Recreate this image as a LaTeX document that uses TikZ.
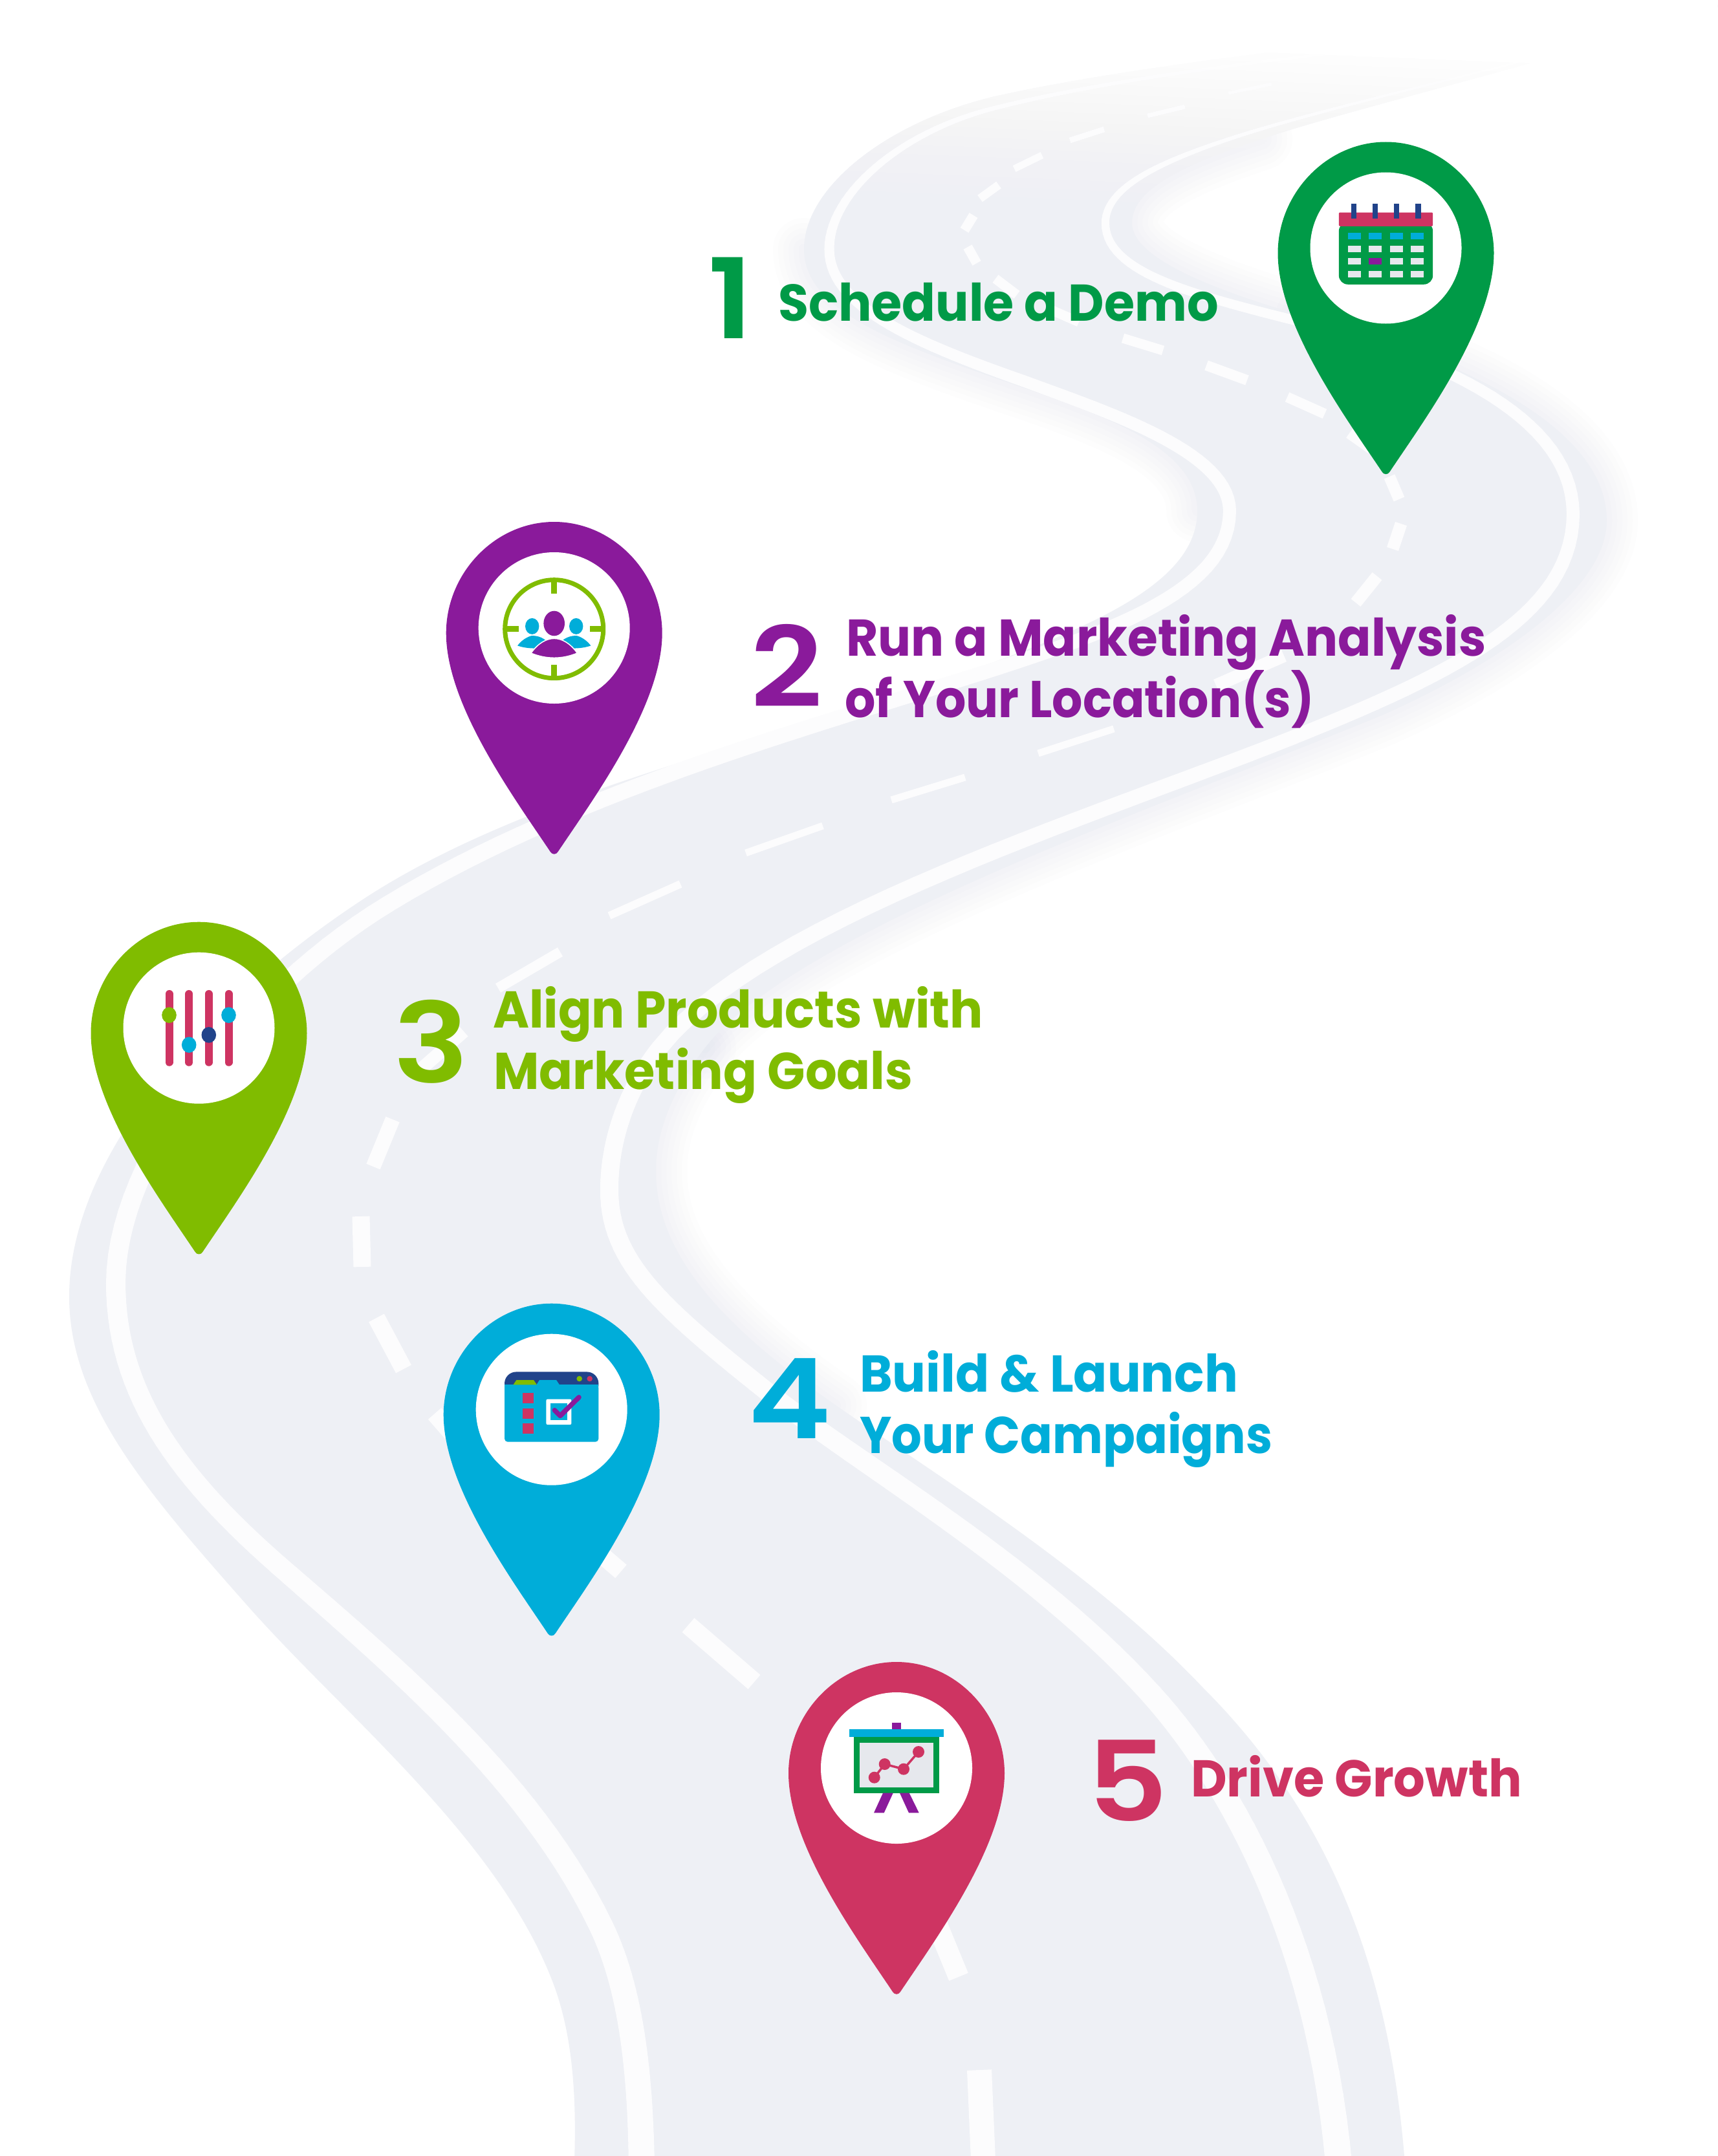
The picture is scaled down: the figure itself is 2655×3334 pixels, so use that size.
\documentclass[tikz,border=0pt]{standalone}
\usepackage{fontspec}
\setmainfont{Poppins}
\newfontfamily\numfont{Poppins SemiBold}
\definecolor{cgreen}{HTML}{009A47}
\definecolor{cpurple}{HTML}{8A1A9B}
\definecolor{clime}{HTML}{80BC00}
\definecolor{cblue}{HTML}{00ADD9}
\definecolor{cred}{HTML}{CE3462}
\definecolor{cnavy}{HTML}{21438A}
\definecolor{croad}{HTML}{EEF0F5}
\definecolor{cshadow}{HTML}{C9CEDC}
\definecolor{cstripe}{HTML}{FCFCFD}
\definecolor{ccell}{HTML}{E6E8ED}
\newcommand\pinshape[3]{% cx, cy, colour
 \fill[#3,shift={(#1,#2)}] (-6,346) .. controls (-60,265) and (-167,120) .. (-167,8)
   .. controls (-167,-84) and (-92,-164) .. (0,-164)
   .. controls (92,-164) and (167,-84) .. (167,8)
   .. controls (167,120) and (60,265) .. (6,346)
   .. controls (3,351) and (-3,351) .. cycle;
 \fill[white,shift={(#1,#2)}] (0,0) circle[radius=117];}
\tikzset{
 numlabel/.style={anchor=base west,inner sep=0pt,xscale=1.13,font=\fontsize{172}{172}\numfont},
 steplabel/.style={anchor=base west,inner sep=0pt,font=\fontsize{80}{95}\selectfont\bfseries},
 dashline/.style={cstripe,line cap=butt}
}
\begin{document}
\begin{tikzpicture}[x=1pt,y=-1pt]
\useasboundingbox (0,0) rectangle (2655,3334);
\clip (0,0) rectangle (2655,3334);
\fill[white] (0,0) rectangle (2655,3334);
% soft shadows outside the road
\foreach \sw in {16,32,48,64,80,96}{
 \draw[cshadow,opacity=.03,line width=\sw pt,line cap=round] (2020,490) .. controls (2290,565) and (2484,670) .. (2484,805) .. controls (2484,900) and (2350,1010) .. (2139,1105) .. controls (1800,1245) and (1230,1440) .. (1090,1620);
 \draw[cshadow,opacity=.03,line width=\sw pt,line cap=round] (1243,385) .. controls (1243,480) and (1380,530) .. (1560,592) .. controls (1700,640) and (1851,690) .. (1851,790);
 \draw[cshadow,opacity=.03,line width=\sw pt,line cap=round] (1090,1620) .. controls (1040,1685) and (1014,1750) .. (1014,1810) .. controls (1014,1930) and (1100,2040) .. (1292,2173);
 \draw[cshadow,opacity=.03,line width=\sw pt,line cap=round] (1950,215) .. controls (1820,258) and (1750,295) .. (1750,345) .. controls (1750,400) and (1880,450) .. (2020,490);
}
% road surface
\fill[croad] (2640,0) .. controls (2250,50) and (1800,90) .. (1534,150)
 .. controls (1370,190) and (1243,290) .. (1243,385)
 .. controls (1243,480) and (1380,530) .. (1560,592)
 .. controls (1700,640) and (1851,690) .. (1851,790)
 .. controls (1851,905) and (1680,975) .. (1438,1059)
 .. controls (1180,1148) and (820,1225) .. (570,1385)
 .. controls (330,1540) and (107,1780) .. (107,2005)
 .. controls (107,2170) and (230,2310) .. (380,2480)
 .. controls (535,2656) and (780,2850) .. (860,3080)
 .. controls (885,3155) and (895,3250) .. (885,3400)
 -- (2178,3400) -- (2171,3334)
 .. controls (2145,3020) and (2040,2790) .. (1860,2610)
 .. controls (1690,2430) and (1450,2283) .. (1292,2173)
 .. controls (1100,2040) and (1014,1930) .. (1014,1810)
 .. controls (1014,1750) and (1040,1685) .. (1090,1620)
 .. controls (1230,1440) and (1800,1245) .. (2139,1105)
 .. controls (2350,1010) and (2484,900) .. (2484,805)
 .. controls (2484,670) and (2290,565) .. (2020,490)
 .. controls (1880,450) and (1750,400) .. (1750,345)
 .. controls (1750,295) and (1820,258) .. (1950,215)
 .. controls (2100,165) and (2400,95) .. (2660,10) -- cycle;
% white edge lines: cubic Bezier pieces with a growing width
\foreach \Pa/\Pb/\Pc/\Pd/\Pe/\Pf/\Pg/\Ph/\Wa/\Wb in {
 2600/20/2200/70/1800/100/1534/168/1/7,
 1534/168/1390/205/1282/300/1282/385/7/15,
 1282/385/1282/470/1400/525/1582/589/15/18,
 1582/589/1720/640/1901/700/1901/790/18/20,
 1901/790/1901/920/1700/985/1438/1066/20/22,
 1438/1066/1180/1146/860/1240/600/1398/22/26,
 600/1398/380/1532/179/1790/179/1984/26/30,
 179/1984/179/2150/270/2280/430/2420/30/31,
 430/2420/600/2569/820/2750/930/2980/31/37,
 930/2980/975/3075/990/3200/992/3350/37/40,
 2640/20/2350/100/2050/165/1900/215/1/6,
 1900/215/1790/252/1709/290/1709/345/6/12,
 1709/345/1709/420/1840/455/2000/495/12/15,
 2000/495/2240/555/2432/650/2432/795/15/20,
 2432/795/2432/950/2250/1040/2000/1140/20/22,
 2000/1140/1700/1260/1180/1420/1020/1620/22/26,
 1020/1620/965/1690/942/1770/942/1840/26/28,
 942/1840/942/1950/1020/2020/1186/2152/28/29,
 1186/2152/1330/2266/1600/2420/1780/2620/29/34,
 1780/2620/1900/2753/2040/3000/2070/3350/34/41}{
 \foreach \ii [remember=\qx as \ox (initially \Pa), remember=\qy as \oy (initially \Pb)] in {1,...,28}{
  \pgfmathsetmacro\tv{\ii/28}\pgfmathsetmacro\uv{1-\tv}
  \pgfmathsetmacro\qx{\uv*\uv*\uv*\Pa+3*\uv*\uv*\tv*\Pc+3*\uv*\tv*\tv*\Pe+\tv*\tv*\tv*\Pg}
  \pgfmathsetmacro\qy{\uv*\uv*\uv*\Pb+3*\uv*\uv*\tv*\Pd+3*\uv*\tv*\tv*\Pf+\tv*\tv*\tv*\Ph}
  \pgfmathsetmacro\qw{\Wa+(\Wb-\Wa)*\tv}
  \draw[cstripe,line cap=round,line width=\qw pt] (\ox,\oy) -- (\qx,\qy);
 }
}
% centre dashes
\foreach \xa/\ya/\xb/\yb/\wv in {1966/130/1899/144/5,1832/165/1774/179/7,1707/200/1654/217/9,1611/240/1568/261/11,1544/286/1515/307/13,1505/333/1491/356/15,1496/382/1510/407/15,1539/431/1572/456/15,1620/477/1668/498/15,1736/523/1798/542/15,1865/565/1928/588/16,1990/614/2048/640/16,2086/670/2120/694/17,2148/737/2163/772/18,2166/810/2153/849/19,2129/891/2096/932/19,1985/1014/1880/1060/20,1722/1127/1605/1165/11,1492/1202/1378/1237/11,1272/1277/1153/1319/11,1052/1367/942/1416/12,866/1472/770/1528/16,717/1595/650/1654/20,607/1731/577/1804/23,558/1881/560/1959/27,582/2038/624/2117/27,672/2186/780/2310/27,925/2400/960/2430/27,1064/2513/1166/2601/29,1445/2967/1482/3057/32,1514/3201/1520/3340/38}{
 \draw[dashline,line width=\wv pt] (\xa,\ya) -- (\xb,\yb);
}
% fade of the far end of the road
\foreach \kk in {23,...,0}{
 \pgfmathsetmacro\yl{15*\kk}\pgfmathsetmacro\yr{\yl+110}\pgfmathsetmacro\ao{1/(\kk+1)}
 \fill[white,opacity=\ao] (-5,-5) -- (2660,-5) -- (2660,\yr) -- (-5,\yl) -- cycle;
}
% texts
\node[numlabel,text=cgreen] (n1) at (1094,523) {1};
\node[steplabel,text=cgreen,xscale=.954] (t1) at (1203,496) {Schedule a Demo};
\node[numlabel,text=cpurple] (n2) at (1160,1093) {2};
\node[steplabel,text=cpurple,xscale=.947] (t2a) at (1308,1014) {Run a Marketing Analysis};
\node[steplabel,text=cpurple,xscale=.93] (t2b) at (1306,1109) {of Your Location(s)};
\node[numlabel,text=clime] (n3) at (608,1674) {3};
\node[steplabel,text=clime,xscale=.951] (t3a) at (762,1589) {Align Products with};
\node[steplabel,text=clime,xscale=.958] (t3b) at (763,1684) {Marketing Goals};
\node[numlabel,text=cblue] (n4) at (1156,2224) {4};
\node[steplabel,text=cblue,xscale=.961] (t4a) at (1329,2152) {Build \& Launch};
\node[steplabel,text=cblue,xscale=.918] (t4b) at (1329,2247) {Your Campaigns};
\node[numlabel,text=cred] (n5) at (1680,2816) {5};
\node[steplabel,text=cred,xscale=.958] (t5) at (1841,2778) {Drive Growth};
% pin 1 calendar
\pinshape{2142.5}{383.5}{cgreen}
\begin{scope}[shift={(2142.5,383.5)}]
 \fill[cgreen,rounded corners=14pt] (-72.7,-40) -- (72.7,-40) -- (72.7,56.3) -- (-72.7,56.3) -- cycle;
 \fill[cred,rounded corners=2pt] (-72.7,-33.7) -- (-72.7,-55) -- (72.7,-55) -- (72.7,-33.7) -- cycle;
 \foreach \rx in {-54,-21,12.3,45.7}{\fill[cnavy] (\rx,-68.7) rectangle ++(8.3,22.7);}
 \foreach \cxx in {-58.7,-26.3,6.3,38.7}{
  \fill[cblue] (\cxx,-23.7) rectangle ++(20,10);
  \foreach \ryy in {-4,15.7,35.7}{\fill[ccell] (\cxx,\ryy) rectangle ++(20,10);}
 }
 \fill[cpurple] (-26.3,15.7) rectangle ++(20,10);
\end{scope}
% pin 2 target
\pinshape{856.7}{971}{cpurple}
\begin{scope}[shift={(856.7,972.7)}]
 \draw[clime,line width=7pt] (0,0) circle[radius=76];
 \foreach \ang in {0,90,180,270}{\fill[clime,rotate=\ang] (55,-4.3) rectangle (76,4.3);}
 \fill[cblue] (-34,-4.3) ellipse[x radius=10.7,y radius=12.5];
 \fill[cblue] (34,-4.3) ellipse[x radius=10.7,y radius=12.5];
 \fill[cblue] (-56.7,25.7) .. controls (-48,14) and (-36,10.3) .. (-34,10.3) .. controls (-20,10.3) and (-10,18) .. (-5,27) .. controls (-22,31) and (-42,31) .. cycle;
 \fill[cblue] (56.7,25.7) .. controls (48,14) and (36,10.3) .. (34,10.3) .. controls (20,10.3) and (10,18) .. (5,27) .. controls (22,31) and (42,31) .. cycle;
 \fill[cpurple,draw=white,line width=1.5pt] (-35.7,37.3) .. controls (-25,22) and (-12,14.7) .. (0,14.7) .. controls (12,14.7) and (25,22) .. (35.7,37.3) .. controls (12,47) and (-12,47) .. cycle;
 \fill[cpurple] (0,-8.7) ellipse[x radius=16.3,y radius=19.3];
\end{scope}
% pin 3 sliders
\pinshape{307.5}{1589.7}{clime}
\begin{scope}[shift={(307.5,1589.7)}]
 \foreach \bx in {-46,-15.3,15.3,46}{\draw[cred,line width=12pt,line cap=round] (\bx,-52.7) -- (\bx,53);}
 \fill[clime] (-46,-20) ellipse[x radius=11.3,y radius=12.3];
 \fill[cblue] (-15.3,26) ellipse[x radius=11.3,y radius=12.3];
 \fill[cnavy] (15.3,10.7) ellipse[x radius=11.3,y radius=12.3];
 \fill[cblue] (46,-20) ellipse[x radius=11.3,y radius=12.3];
\end{scope}
% pin 4 browser
\pinshape{852.7}{2179.7}{cblue}
\begin{scope}[shift={(852.7,2179.7)}]
 \fill[cnavy,rounded corners=18pt] (-72.7,-20) -- (-72.7,-58.3) -- (72.7,-58.3) -- (72.7,-20) -- cycle;
 \fill[cblue,rounded corners=5pt] (-72.7,-38.3) -- (72.7,-38.3) -- (72.7,50) -- (-72.7,50) -- cycle;
 \fill[cblue] (-72.7,-38.3) rectangle (72.7,-20);
 \fill[clime] (-59.3,-38.3) -- (-54.3,-45.7) -- (-27.7,-45.7) -- (-22.7,-38.3) -- cycle;
 \fill[cblue] (-23.3,-38.3) -- (-18.7,-45.7) -- (7.3,-45.7) -- (12.3,-38.3) -- cycle;
 \fill[clime] (43,-47.7) circle[radius=4.3];
 \fill[cred] (59,-47.7) circle[radius=4.3];
 \foreach \sy in {-25.7,-2,21.7}{\fill[cred] (-44.7,\sy) rectangle ++(16.7,16);}
 \fill[white,rounded corners=2pt] (-8.3,-16) rectangle (30.7,23.3);
 \fill[cblue] (-1.7,-9.3) rectangle (24.3,16.3);
 \draw[cpurple,line width=7.5pt,line cap=round,line join=round] (4.7,1) -- (13.3,9.7) -- (42.3,-19);
\end{scope}
% pin 5 presentation
\pinshape{1386}{2734}{cred}
\begin{scope}[shift={(1386,2734)}]
 \fill[cpurple] (-7.3,-69.7) rectangle (7,-59);
 \fill[cblue] (-72.7,-60.3) rectangle (72.7,-48.3);
 \fill[cgreen] (-66,-48.3) rectangle (66,38.7);
 \fill[ccell] (-57,-39.3) rectangle (56.7,29.7);
 \fill[cpurple] (-21,38.7) -- (-5.3,38.7) -- (-19.3,69.3) -- (-35,69.3) -- cycle;
 \fill[cpurple] (5,38.7) -- (19.7,38.7) -- (34.7,69.3) -- (19,69.3) -- cycle;
 \draw[cred,line width=3.5pt] (-34.3,14.7) -- (-18.3,-6) -- (11,1.7) -- (34,-25);
 \foreach \gx/\gy in {-34.3/14.7,-18.3/-6,11/1.7,34/-25}{\fill[cred] (\gx,\gy) circle[radius=9];}
\end{scope}
\end{tikzpicture}
\end{document}
